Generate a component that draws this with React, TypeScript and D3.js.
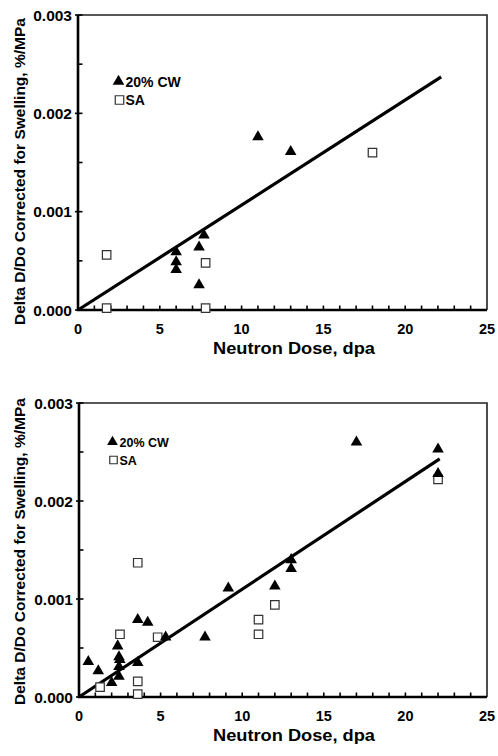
import React from "react";
import * as d3 from "d3";

// ---------- data ----------
const xTicks = [0, 5, 10, 15, 20, 25];
const yTicks = [0, 0.001, 0.002, 0.003];
const yTickLabels = ["0.000", "0.001", "0.002", "0.003"];
const seriesNames = ["20% CW", "SA"];

// Top panel
const topCWDose = [11, 13, 6, 6, 6, 7.4, 7.4, 7.7];
const topCWVal = [0.00176, 0.00161, 0.00059, 0.00049, 0.00041, 0.00064, 0.000254, 0.00076];
const topSADose = [1.75, 1.75, 7.8, 7.8, 18];
const topSAVal = [0.00056, 0.00002, 0.00048, 0.00002, 0.0016];
const topFitDose = [0, 22.2];
const topFitVal = [0, 0.00237];

// Bottom panel
const botCWDose = [17.0, 22.0, 22.0, 13.0, 13.0, 12.0, 9.15, 7.72, 5.31, 4.21, 3.6, 3.6, 2.37, 2.45, 2.5, 2.45, 2.45, 2.0, 1.18, 0.57];
const botCWVal = [0.0026, 0.00253, 0.00228, 0.0014, 0.00131, 0.00113, 0.00111, 0.00061, 0.00061, 0.00076, 0.00079, 0.00035, 0.00052, 0.00041, 0.00038, 0.00031, 0.00021, 0.000146, 0.000265, 0.00036];
const botSADose = [22.0, 12.0, 11.0, 11.0, 4.82, 3.6, 3.6, 3.6, 2.51, 1.29];
const botSAVal = [0.00222, 0.00094, 0.00079, 0.00064, 0.00061, 0.00137, 0.00016, 0.00003, 0.00064, 0.0001];
const botFitDose = [0, 22.1];
const botFitVal = [0, 0.00243];

const FONT = "'Liberation Sans', Arial, Helvetica, sans-serif";

type PanelProps = {
  left: number; right: number; top: number; bottom: number;
  cwX: number[]; cwY: number[]; saX: number[]; saY: number[];
  fitX: number[]; fitY: number[];
  legendX: number; legendY: number; legendGap: number; legendFont: number;
  yTitleCenter: number;
};

function Panel(p: PanelProps) {
  const x = d3.scaleLinear().domain([0, 25]).range([p.left, p.right]);
  const y = d3.scaleLinear().domain([0, 0.003]).range([p.bottom, p.top]);
  const tri = d3.symbol().type(d3.symbolTriangle).size(58)();
  const sq = d3.symbol().type(d3.symbolSquare).size(72)();
  const triSmall = d3.symbol().type(d3.symbolTriangle).size(50)();
  const sqSmall = d3.symbol().type(d3.symbolSquare).size(56)();
  const line = d3.line<number>().x((d) => x(p.fitX[d])).y((d) => y(p.fitY[d]));
  const minorX = d3.range(1, 25);
  const minorY = d3.range(0.0005, 0.003, 0.001);
  const tickLen = 4.5;
  return (
    <g>
      {/* frame top/right */}
      <path d={`M${p.left},${p.top}H${p.right}V${p.bottom}`} fill="none" stroke="#222" strokeWidth={1.6} />
      {/* ticks */}
      {minorX.map((t) => (
        <line key={"mx" + t} x1={x(t)} x2={x(t)} y1={p.bottom} y2={p.bottom - tickLen} stroke="#000" strokeWidth={1.6} />
      ))}
      {minorY.map((t) => (
        <line key={"my" + t} x1={p.left} x2={p.left + tickLen} y1={y(t)} y2={y(t)} stroke="#000" strokeWidth={1.6} />
      ))}
      {yTicks.map((t) => (
        <line key={"Ty" + t} x1={p.left - 3} x2={p.left + tickLen} y1={y(t)} y2={y(t)} stroke="#000" strokeWidth={1.6} />
      ))}
      {/* axes */}
      <path d={`M${p.left},${p.top}V${p.bottom}H${p.right}`} fill="none" stroke="#000" strokeWidth={2.6} />
      {/* tick labels */}
      {xTicks.map((t) => (
        <text key={"xl" + t} x={x(t)} y={p.bottom + 24} textAnchor="middle" fontFamily={FONT} fontWeight="bold" fontSize={14.5}>{t}</text>
      ))}
      {yTicks.map((t, i) => (
        <text key={"yl" + t} x={p.left - 6} y={y(t)} dy="0.36em" textAnchor="end" fontFamily={FONT} fontWeight="bold" fontSize={15.5}>{yTickLabels[i]}</text>
      ))}
      {/* titles */}
      <text x={294} y={p.bottom + 44} textAnchor="middle" fontFamily={FONT} fontWeight="bold" fontSize={16} textLength={162} lengthAdjust="spacingAndGlyphs">Neutron Dose, dpa</text>
      <text transform={`translate(25,${p.yTitleCenter}) rotate(-90)`} textAnchor="middle" fontFamily={FONT} fontWeight="bold" fontSize={15} textLength={307} lengthAdjust="spacingAndGlyphs">Delta D/Do Corrected for Swelling, %/MPa</text>
      {/* fit line */}
      <path d={line(d3.range(p.fitX.length)) || ""} fill="none" stroke="#000" strokeWidth={3.2} />
      {/* SA squares */}
      {p.saX.map((d, i) => (
        <path key={"sa" + i} d={sq} transform={`translate(${x(d)},${y(p.saY[i])})`} fill="#fff" stroke="#333" strokeWidth={1.2} />
      ))}
      {/* CW triangles */}
      {p.cwX.map((d, i) => (
        <path key={"cw" + i} d={tri} transform={`translate(${x(d)},${y(p.cwY[i])})`} fill="#000" />
      ))}
      {/* legend */}
      <path d={p.legendFont > 13 ? tri : triSmall} transform={`translate(${p.legendX},${p.legendY})`} fill="#000" />
      <text x={p.legendX + 7} y={p.legendY} dy="0.36em" fontFamily={FONT} fontWeight="bold" fontSize={p.legendFont}>{seriesNames[0]}</text>
      <path d={p.legendFont > 13 ? sq : sqSmall} transform={`translate(${p.legendX + 1},${p.legendY + p.legendGap})`} fill="#fff" stroke="#333" strokeWidth={1.2} />
      <text x={p.legendX + 7} y={p.legendY + p.legendGap} dy="0.36em" fontFamily={FONT} fontWeight="bold" fontSize={p.legendFont}>{seriesNames[1]}</text>
    </g>
  );
}

export default function App() {
  return (
    <svg width={498} height={756} style={{ position: "absolute", left: 0, top: 0, background: "#fff" }}>
      <rect width={498} height={756} fill="#fff" />
      <Panel left={78} right={487} top={15} bottom={310}
        cwX={topCWDose} cwY={topCWVal} saX={topSADose} saY={topSAVal}
        fitX={topFitDose} fitY={topFitVal}
        legendX={118.5} legendY={81.5} legendGap={18.5} legendFont={14}
        yTitleCenter={171.5} />
      <Panel left={79} right={487} top={403} bottom={697}
        cwX={botCWDose} cwY={botCWVal} saX={botSADose} saY={botSAVal}
        fitX={botFitDose} fitY={botFitVal}
        legendX={112.5} legendY={442} legendGap={18} legendFont={12.5}
        yTitleCenter={551.5} />
    </svg>
  );
}
